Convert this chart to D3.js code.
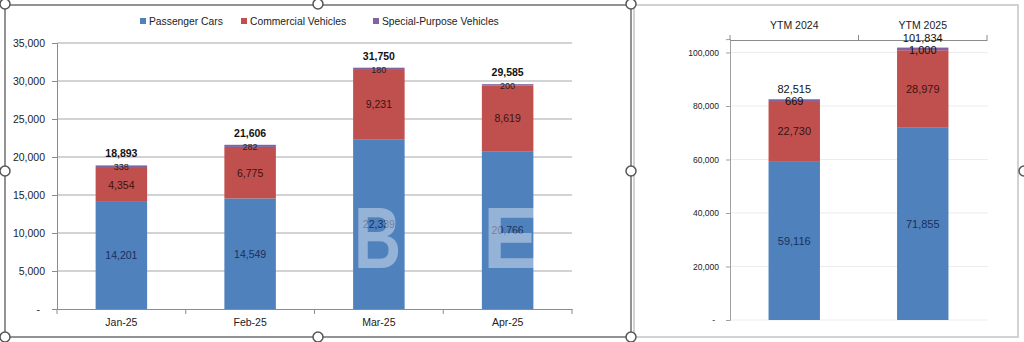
<!DOCTYPE html>
<html><head><meta charset="utf-8">
<script src="https://cdn.jsdelivr.net/npm/d3@7"></script>
<style>
body{margin:0;background:#fff;}
svg{display:block;font-family:"Liberation Sans",Arial,sans-serif;}
</style></head>
<body>
<svg id="c" width="1024" height="342"></svg>
<script>
// ---- data ----
const categories = ["Jan-25", "Feb-25", "Mar-25", "Apr-25"];
const seriesNames = ["Passenger Cars", "Commercial Vehicles", "Special-Purpose Vehicles"];
const passenger = [14201, 14549, 22339, 20766];
const commercial = [4354, 6775, 9231, 8619];
const special = [338, 282, 180, 200];
const totals = [18893, 21606, 31750, 29585];
const leftTicks = [0, 5000, 10000, 15000, 20000, 25000, 30000, 35000];

const ytdCategories = ["YTM 2024", "YTM 2025"];
const ytdPassenger = [59116, 71855];
const ytdCommercial = [22730, 28979];
const ytdSpecial = [669, 1000];
const ytdTotals = [82515, 101834];
const rightTicks = [0, 20000, 40000, 60000, 80000, 100000];

const colors = ["#4f81bd", "#c0504d", "#8064a2"];
const labelColors = ["#1b2f5a", "#3d1212", "#222"];

const svg = d3.select("#c");
const fmt = d3.format(",");
const tickFmt = d => d === 0 ? "-" : fmt(d);

// ---- frames ----
svg.append("rect").attr("x", 634).attr("y", 5).attr("width", 384).attr("height", 332)
  .attr("fill", "none").attr("stroke", "#c4c4c4").attr("stroke-width", 1.5);
svg.append("rect").attr("x", 5).attr("y", 5).attr("width", 626).attr("height", 332)
  .attr("fill", "none").attr("stroke", "#6f6f6f").attr("stroke-width", 1.5);

// ---- LEFT CHART ----
function buildRows(cats, a, b, c) {
  return cats.map((k, i) => ({cat: k, s0: a[i], s1: b[i], s2: c[i]}));
}
const keys = ["s0", "s1", "s2"];
const leftRows = buildRows(categories, passenger, commercial, special);
const leftStack = d3.stack().keys(keys)(leftRows);

const lx = d3.scaleBand().domain(categories).range([57, 572]).padding(0);
const ly = d3.scaleLinear().domain([0, 35000]).range([309, 43]);
const lbw = lx.bandwidth() * 0.4;

const gL = svg.append("g");
// gridlines
gL.selectAll("line.grid").data(leftTicks.filter(d => d > 0)).join("line")
  .attr("x1", 57).attr("x2", 572).attr("y1", d => ly(d)).attr("y2", d => ly(d))
  .attr("stroke", "#a6a6a6").attr("stroke-width", 1);

// y axis
const yAxisL = gL.append("g").attr("transform", "translate(57,0)")
  .call(d3.axisLeft(ly).tickValues(leftTicks).tickFormat(tickFmt).tickSize(5).tickPadding(7));
yAxisL.select(".domain").attr("stroke", "#8c8c8c");
yAxisL.selectAll(".tick line").attr("stroke", "#8c8c8c");
yAxisL.selectAll(".tick text").attr("font-size", "10.5px").attr("fill", "#222")
  .attr("font-family", "Liberation Sans, Arial, sans-serif");
yAxisL.selectAll(".tick text").filter(d => d === 0).attr("x", -17);

// x axis
const xAxisL = gL.append("g").attr("transform", "translate(0,309)")
  .call(d3.axisBottom(lx).tickSize(0).tickPadding(10));
xAxisL.select(".domain").attr("stroke", "#8c8c8c");
xAxisL.selectAll(".tick text").attr("font-size", "10.5px").attr("fill", "#222")
  .attr("font-family", "Liberation Sans, Arial, sans-serif");
gL.selectAll("line.xt").data([...categories.map(c => lx(c)), lx(categories[categories.length-1]) + lx.bandwidth()])
  .join("line").attr("x1", d => d).attr("x2", d => d).attr("y1", 309).attr("y2", 314)
  .attr("stroke", "#8c8c8c");

// bars
leftStack.forEach((s, si) => {
  gL.append("g").selectAll("rect").data(s).join("rect")
    .attr("x", d => lx(d.data.cat) + (lx.bandwidth() - lbw) / 2)
    .attr("width", lbw)
    .attr("y", d => ly(d[1]))
    .attr("height", d => ly(d[0]) - ly(d[1]))
    .attr("fill", colors[si]);
});
// segment labels
[0, 1].forEach(si => {
  gL.append("g").selectAll("text").data(leftStack[si]).join("text")
    .attr("x", d => lx(d.data.cat) + lx.bandwidth() / 2)
    .attr("y", d => (ly(d[0]) + ly(d[1])) / 2 + 4)
    .attr("text-anchor", "middle").attr("font-size", "10.5px")
    .attr("fill", labelColors[si]).text(d => fmt(d[1] - d[0]));
});
gL.append("g").selectAll("text").data(leftStack[2]).join("text")
  .attr("x", d => lx(d.data.cat) + lx.bandwidth() / 2)
  .attr("y", d => ly(d[1]) + 5)
  .attr("text-anchor", "middle").attr("font-size", "9px")
  .attr("fill", labelColors[2]).text(d => fmt(d[1] - d[0]));
gL.append("g").selectAll("text").data(categories).join("text")
  .attr("x", (d) => lx(d) + lx.bandwidth() / 2)
  .attr("y", (d, i) => ly(totals[i]) - 8)
  .attr("text-anchor", "middle").attr("font-size", "10.5px").attr("font-weight", "bold")
  .attr("fill", "#111").text((d, i) => fmt(totals[i]));

// legend
const legendX = [140, 241, 373];
const lg = svg.append("g");
seriesNames.forEach((n, i) => {
  lg.append("rect").attr("x", legendX[i]).attr("y", 18).attr("width", 6).attr("height", 6).attr("fill", colors[i]);
  lg.append("text").attr("x", legendX[i] + 9).attr("y", 25).attr("font-size", "10.3px").attr("fill", "#222").text(n);
});

// watermark
const wm = svg.append("g").attr("fill", "#ffffff").attr("fill-opacity", 0.4)
  .attr("font-family", "Liberation Sans, Arial, sans-serif").attr("font-weight", "bold").attr("font-size", "88px");
wm.append("text").attr("x", 354).attr("y", 268).attr("textLength", 47).attr("lengthAdjust", "spacingAndGlyphs").text("B");
wm.append("text").attr("x", 483).attr("y", 268).attr("textLength", 56).attr("lengthAdjust", "spacingAndGlyphs").text("E");

// ---- RIGHT CHART ----
const rightRows = buildRows(ytdCategories, ytdPassenger, ytdCommercial, ytdSpecial);
const rightStack = d3.stack().keys(keys)(rightRows);
const rx = d3.scaleBand().domain(ytdCategories).range([730, 987]).padding(0);
const ry = d3.scaleLinear().domain([0, 105000]).range([320, 39.1]);
const rbw = rx.bandwidth() * 0.4;
const gR = svg.append("g");

gR.selectAll("line.grid").data(rightTicks.filter(d => d > 0)).join("line")
  .attr("x1", 730).attr("x2", 988).attr("y1", d => ry(d)).attr("y2", d => ry(d))
  .attr("stroke", "#ececec").attr("stroke-width", 1);
gR.append("line").attr("x1", 730).attr("x2", 988).attr("y1", 320).attr("y2", 320)
  .attr("stroke", "#ececec");

const yAxisR = gR.append("g").attr("transform", "translate(730,0)")
  .call(d3.axisLeft(ry).tickValues(rightTicks).tickFormat(tickFmt).tickSize(4).tickPadding(7));
yAxisR.select(".domain").attr("stroke", "#a0a0a0");
yAxisR.selectAll(".tick line").attr("stroke", "#a0a0a0");
yAxisR.selectAll(".tick text").attr("font-size", "8.5px").attr("fill", "#222")
  .attr("font-family", "Liberation Sans, Arial, sans-serif");
yAxisR.selectAll(".tick text").filter(d => d === 0).attr("x", -15);

// top category axis
const xAxisR = gR.append("g").attr("transform", "translate(0,40)")
  .call(d3.axisTop(rx).tickSize(0).tickPadding(11));
xAxisR.select(".domain").attr("stroke", "#8c8c8c");
xAxisR.selectAll(".tick text").attr("font-size", "10.5px").attr("fill", "#222")
  .attr("font-family", "Liberation Sans, Arial, sans-serif");
gR.selectAll("line.xt").data([...ytdCategories.map(c => rx(c)), rx(ytdCategories[1]) + rx.bandwidth()])
  .join("line").attr("x1", d => d).attr("x2", d => d).attr("y1", 35).attr("y2", 40)
  .attr("stroke", "#8c8c8c");

rightStack.forEach((s, si) => {
  gR.append("g").selectAll("rect").data(s).join("rect")
    .attr("x", d => rx(d.data.cat) + (rx.bandwidth() - rbw) / 2)
    .attr("width", rbw)
    .attr("y", d => ry(d[1]))
    .attr("height", d => ry(d[0]) - ry(d[1]))
    .attr("fill", colors[si]);
});
[0, 1].forEach(si => {
  gR.append("g").selectAll("text").data(rightStack[si]).join("text")
    .attr("x", d => rx(d.data.cat) + rx.bandwidth() / 2)
    .attr("y", d => (ry(d[0]) + ry(d[1])) / 2 + 4)
    .attr("text-anchor", "middle").attr("font-size", "11px")
    .attr("fill", labelColors[si]).text(d => fmt(d[1] - d[0]));
});
gR.append("g").selectAll("text").data(rightStack[2]).join("text")
  .attr("x", d => rx(d.data.cat) + rx.bandwidth() / 2)
  .attr("y", d => ry(d[1]) + 6)
  .attr("text-anchor", "middle").attr("font-size", "11px")
  .attr("fill", "#111").text(d => fmt(d[1] - d[0]));
gR.append("g").selectAll("text").data(ytdCategories).join("text")
  .attr("x", d => rx(d) + rx.bandwidth() / 2)
  .attr("y", (d, i) => ry(ytdTotals[i]) - 6)
  .attr("text-anchor", "middle").attr("font-size", "11px")
  .attr("fill", "#111").text((d, i) => fmt(ytdTotals[i]));

// ---- selection handles ----
const handles = [[5,4],[318,4],[631,4],[5,171],[631,171],[5,337],[318,337],[631,337],[1024,171]];
svg.append("g").selectAll("circle").data(handles).join("circle")
  .attr("cx", d => d[0]).attr("cy", d => d[1]).attr("r", 5)
  .attr("fill", "#fff").attr("stroke", "#555").attr("stroke-width", 1.5);
</script>
</body></html>
